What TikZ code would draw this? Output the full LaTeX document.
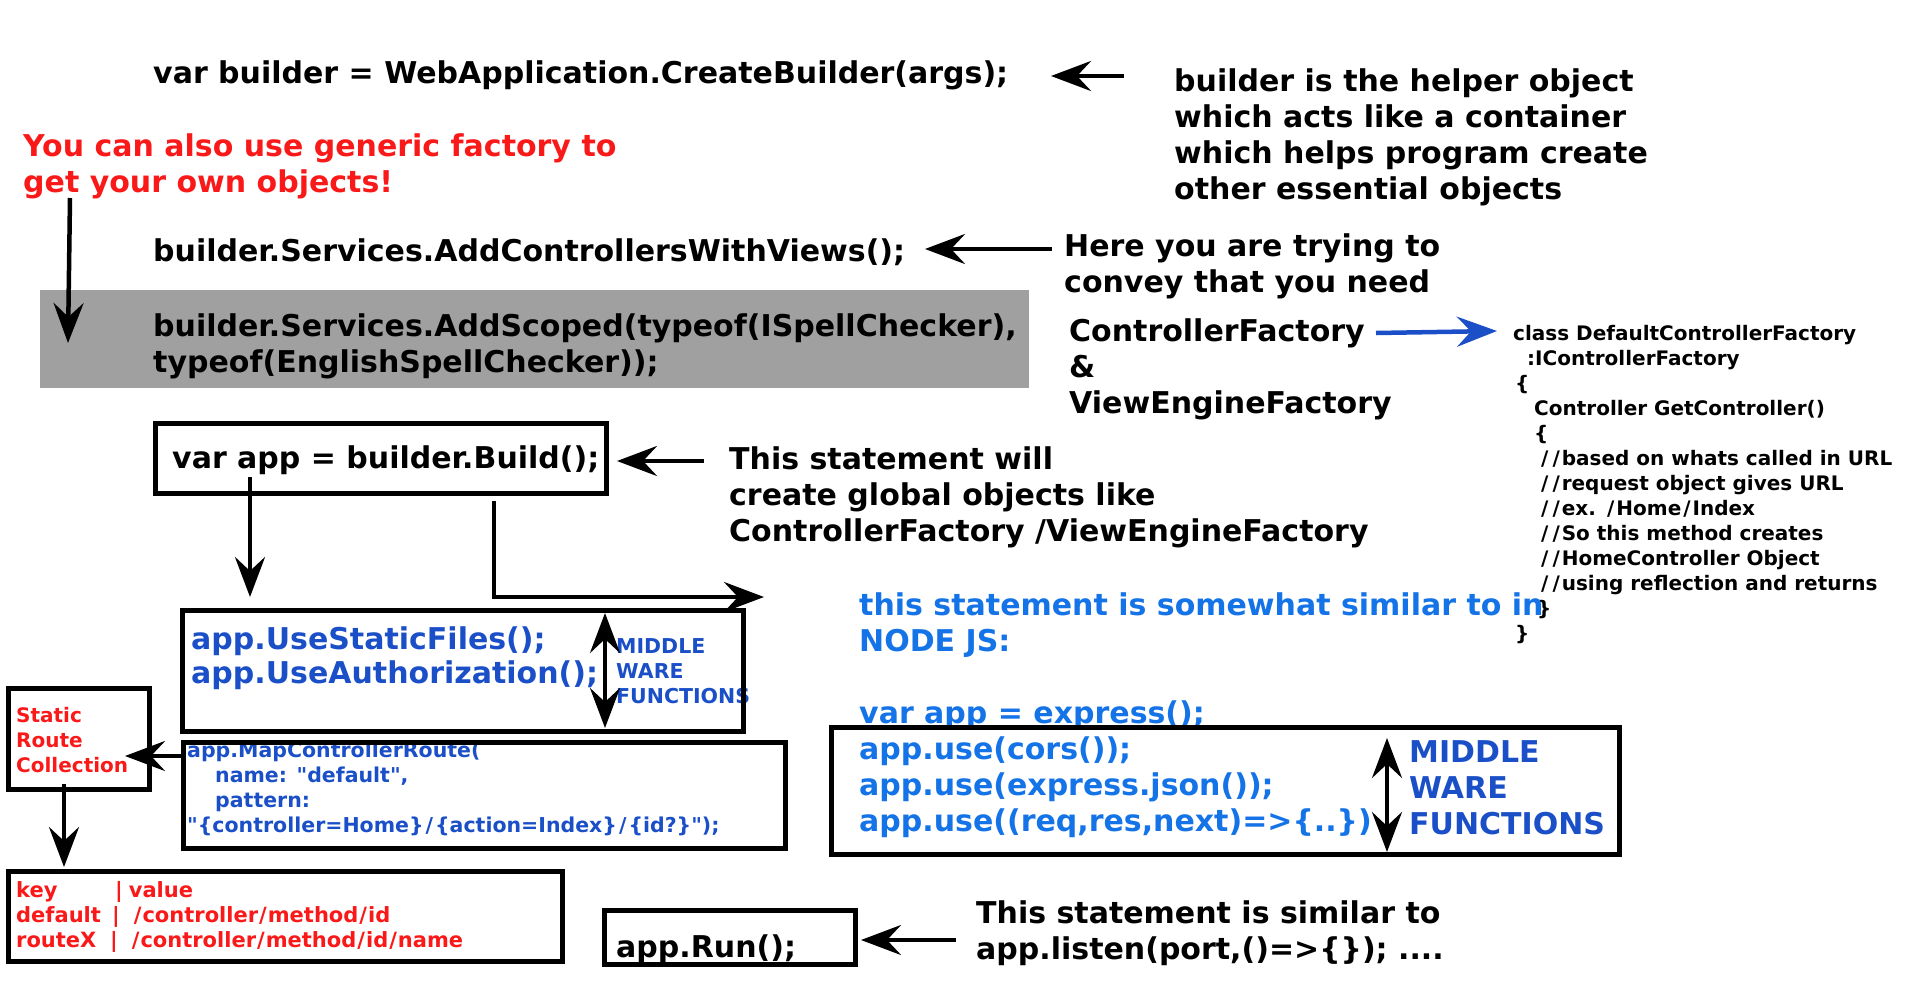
\documentclass[tikz,border=0pt]{standalone}
\usepackage{fontspec}
\newfontfamily\diagfont{DejaVu Sans}
\usetikzlibrary{arrows.meta}
\definecolor{codered}{RGB}{250,25,25}
\definecolor{mwblue}{RGB}{26,79,200}
\definecolor{jsblue}{RGB}{20,115,230}
\definecolor{scopegray}{RGB}{160,160,160}
\newcommand{\bigtxt}{\diagfont\fontsize{30}{36}\selectfont\bfseries}
\newcommand{\smalltxt}{\diagfont\fontsize{20.5}{25}\selectfont\bfseries}
\newcommand{\codetxt}{\diagfont\fontsize{20}{25}\selectfont\bfseries}
\newcommand{\slsh}{\kern2pt/\kern2pt}
\newcommand{\tsl}{\kern1pt/\kern1pt}

\begin{document}
\begin{tikzpicture}[
  x=1pt, y=-1pt,
  txt/.style={anchor=base west, align=left, inner sep=0pt, font=\bigtxt},
  sml/.style={txt, font=\smalltxt},
  frame/.style={draw, line width=5pt, outer sep=2.5pt, inner sep=0pt, anchor=north west},
  ptr/.style={line width=4.5pt, -{Stealth[length=40pt, width=30pt, inset=14pt]}},
  both/.style={line width=4pt, {Stealth[length=40pt, width=30pt, inset=14pt]}-{Stealth[length=40pt, width=30pt, inset=14pt]}},
]
  \useasboundingbox (0,0) rectangle (1920,991);

  \node[fill=scopegray, minimum width=989pt, minimum height=98pt, inner sep=0pt, anchor=north west] (scoped) at (40,290) {};

  % top part: builder (multi-line texts sit on their last baseline)
  \node[txt] (tBuilder) at (153,83) {var builder = WebApplication.CreateBuilder(args);};
  \node[txt] (tHelper) at (1174,199) {builder is the helper object\\which acts like a container\\which helps program create\\other essential objects};
  \node[txt, text=codered] (tGeneric) at (23,192) {You can also use generic factory to\\get your own objects!};
  \node[txt] (tAddCtrl) at (153,261) {builder.Services.AddControllersWithViews();};
  \node[txt] (tConvey) at (1064,292) {Here you are trying to\\convey that you need};
  \node[txt] (tScoped) at (153,372) {builder.Services.AddScoped(typeof(ISpellChecker),\\typeof(EnglishSpellChecker));};
  \node[txt] (tFactories) at (1069,413) {ControllerFactory\\\&\\ViewEngineFactory};
  \node[txt, font=\codetxt] (tClass) at (1513,640) {class DefaultControllerFactory\\
    \hspace*{14pt}:IControllerFactory\\
    \hspace*{2pt}\{\\
    \hspace*{21pt}Controller GetController()\\
    \hspace*{21pt}\{\\
    \hspace*{26pt}\slsh\slsh based on whats called in URL\\
    \hspace*{26pt}\slsh\slsh request object gives URL\\
    \hspace*{26pt}\slsh\slsh ex. \slsh Home\slsh Index\\
    \hspace*{26pt}\slsh\slsh So this method creates\\
    \hspace*{26pt}\slsh\slsh HomeController Object\\
    \hspace*{26pt}\slsh\slsh using reflection and returns\\
    \hspace*{24pt}\}\\
    \hspace*{2pt}\}};

  % app and middleware
  \node[txt] (tBuild) at (172,468) {var app = builder.Build();};
  \node[txt] (tGlobal) at (729,541) {This statement will\\create global objects like\\ControllerFactory /ViewEngineFactory};
  \node[txt, text=mwblue] (tUse) at (191,683) {app.UseStaticFiles();\\[-2pt]app.UseAuthorization();};
  \node[sml, text=mwblue] (tMwSmall) at (616,703) {MIDDLE\\WARE\\FUNCTIONS};
  \node[sml, font=\diagfont\fontsize{20}{25}\selectfont\bfseries, text=codered] (tRoute) at (16,772) {Static\\Route\\Collection};
  \node[sml, text=mwblue] (tMap) at (187,832) {app.MapControllerRoute(\\
    \hspace*{28pt}name: "default",\\
    \hspace*{28pt}pattern:\\
    "\{controller=Home\}\slsh\{action=Index\}\slsh\{id?\}");};
  \node[sml, font=\diagfont\fontsize{21}{25}\selectfont\bfseries, text=codered] (tTable) at (16,947) {\makebox[99pt][l]{key}|\hspace*{6pt}value\\
    \makebox[96pt][l]{default}|\hspace*{13pt}\tsl controller\tsl method\tsl id\\
    \makebox[94pt][l]{routeX}|\hspace*{13pt}\tsl controller\tsl method\tsl id\tsl name};
  \node[txt, text=jsblue] (tNode) at (859,831) {this statement is somewhat similar to in\\NODE JS:\\[36pt]var app = express();\\app.use(cors());\\app.use(express.json());\\app.use((req,res,next)=>\{..\})};
  \node[txt, text=mwblue] (tMwBig) at (1409,834) {MIDDLE\\WARE\\FUNCTIONS};
  \node[txt] (tRun) at (616,957) {app.Run();};
  \node[txt] (tListen) at (976,959) {This statement is similar to\\app.listen(port,()=>\{\}); ....};

  % boxes
  \node[frame, minimum width=451pt, minimum height=70pt] (build) at (153,421) {};
  \node[frame, minimum width=561pt, minimum height=121pt] (mw) at (180,608) {};
  \node[frame, minimum width=141pt, minimum height=101pt] (route) at (6,686) {};
  \node[frame, minimum width=602pt, minimum height=106pt] (map) at (181,740) {};
  \node[frame, minimum width=554pt, minimum height=90pt] (table) at (6,869) {};
  \node[frame, minimum width=251pt, minimum height=54pt] (run) at (602,908) {};
  \node[frame, minimum width=788pt, minimum height=127pt] (express) at (829,725) {};

  % free ends of the pointers
  \coordinate (helperTail) at (1124,76);
  \coordinate (helperTip) at (1051,76);
  \coordinate (conveyTail) at (1052,249);
  \coordinate (conveyTip) at (925,249);
  \coordinate (genericTail) at (70,198);
  \coordinate (genericTip) at (68,343);
  \coordinate (factoryTail) at (1376,333);
  \coordinate (factoryTip) at (1497,331);
  \coordinate (globalTail) at (704,461);
  \coordinate (nodeTip) at (764,597);
  \coordinate (listenTail) at (956,940);

  \draw[ptr] (helperTail) -- (helperTip);
  \draw[ptr] (conveyTail) -- (conveyTip);
  \draw[ptr] (genericTail) -- (genericTip);
  \draw[ptr, mwblue] (factoryTail) -- (factoryTip);
  \draw[ptr] (globalTail) -- ([xshift=8pt, yshift=-2.5pt]build.east);
  \draw[ptr] ([xshift=97pt, yshift=19pt]build.south west) -- ([xshift=70pt, yshift=11pt]mw.north west);
  \draw[ptr] ([xshift=341pt, yshift=-5pt]build.south west) |- (nodeTip);
  \draw[both] ([xshift=425pt, yshift=-5pt]mw.north west) -- ([xshift=425pt, yshift=6pt]mw.south west);
  \draw[ptr] ([yshift=-16pt]map.north west) -- ([xshift=-27pt, yshift=-70pt]route.north east);
  \draw[ptr] ([xshift=58pt, yshift=8pt]route.south west) -- ([xshift=58pt, yshift=2pt]table.north west);
  \draw[ptr] (listenTail) -- ([xshift=3pt, yshift=-2.5pt]run.east);
  \draw[both] ([xshift=558pt, yshift=-13pt]express.north west) -- ([xshift=558pt, yshift=5pt]express.south west);
\end{tikzpicture}
\end{document}
